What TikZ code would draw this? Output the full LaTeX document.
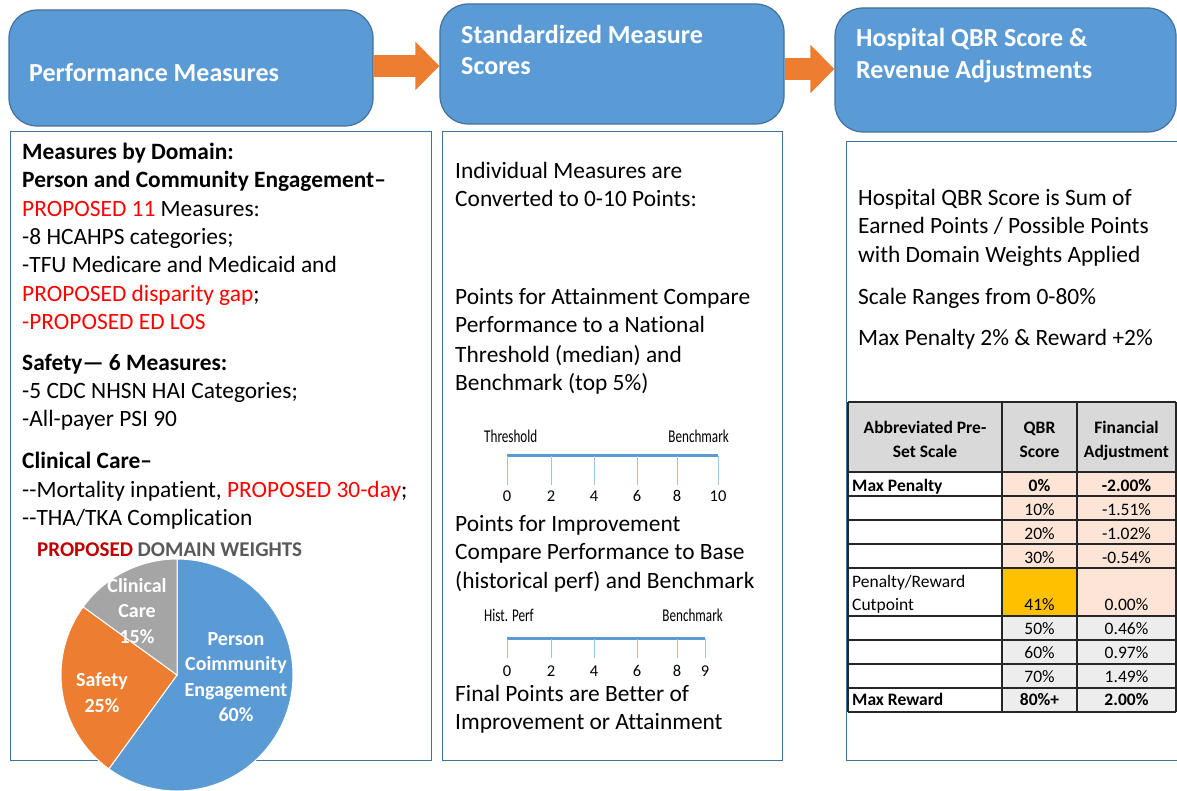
\documentclass[tikz,border=0pt]{standalone}
\usepackage{fontspec}
\setmainfont{Carlito}[Ligatures={TeX,NoCommon}]
\newfontfamily\narrowfont[FakeStretch=0.73]{Carlito}
\usetikzlibrary{arrows.meta}

\definecolor{hdrblue}{HTML}{5B9BD5}
\definecolor{hdredge}{HTML}{41719C}
\definecolor{flowor}{HTML}{ED7D31}
\definecolor{piegray}{HTML}{A5A5A5}
\definecolor{propred}{HTML}{FF0000}
\definecolor{darkred}{HTML}{C00000}
\definecolor{wtgray}{HTML}{595959}
\definecolor{tickblue}{HTML}{9DC3E6}
\definecolor{thdgray}{HTML}{D9D9D9}
\definecolor{peach}{HTML}{FCE4D6}
\definecolor{gold}{HTML}{FFC000}
\definecolor{rowgray}{HTML}{EDEDED}

\tikzset{
  hdr/.style={draw=hdredge, line width=1.2pt, fill=hdrblue, rounded corners=28pt, inner sep=0},
  hdrtxt/.style={text=white, font=\bfseries\fontsize{26}{31}\selectfont, anchor=base west, inner sep=0},
  panel/.style={draw=hdredge, line width=1.3pt, fill=white, inner sep=0, anchor=north west},
  body/.style={font=\fontsize{23.4}{28}\selectfont, anchor=base west, inner sep=0},
  flowarrow/.style={flowor, line width=22pt, -{Triangle[length=24pt, width=47pt]}},
  pielbl/.style={text=white, font=\bfseries\fontsize{20}{25.3}\selectfont, align=center, inner sep=0},
  scalelbl/.style={font=\narrowfont\fontsize{18}{20}\selectfont, inner sep=0},
  ticklbl/.style={font=\fontsize{16.5}{18}\selectfont, anchor=base, inner sep=0},
  scaleline/.style={hdrblue, line width=3pt},
  scaletick/.style={tickblue, line width=1pt},
  tbl/.style={font=\fontsize{17.5}{24}\selectfont, anchor=base, inner sep=0},
  tblline/.style={draw=black!85, line width=1.3pt},
}

\begin{document}
\begin{tikzpicture}[x=1pt, y=-1pt]
  \useasboundingbox (0,0) rectangle (1177,791);
  \fill[white] (0,0) rectangle (1177,791);
  \clip (0,0) rectangle (1177,791);

  % panels under the headers
  \node[panel, minimum width=421, minimum height=629] (pmbox) at (10,131) {};
  \node[panel, minimum width=340, minimum height=629] (smsbox) at (442,131) {};
  \node[panel, minimum width=360, minimum height=619] (qbrbox) at (846,141) {};

  % headers
  \node[hdr, minimum width=364, minimum height=116] (pm) at (191,68) {};
  \node[hdr, minimum width=344, minimum height=120] (sms) at (612,64) {};
  \node[hdr, minimum width=341, minimum height=124] (qbr) at (1005.5,70) {};
  \node[hdrtxt] (pmtxt) at (29,82) {Performance Measures};
  \node[hdrtxt] (smstxt) at (461,44) {Standardized Measure};
  \node[hdrtxt] (smstxtb) at (461,75) {Scores};
  \node[hdrtxt] (qbrtxt) at (856,47) {Hospital QBR Score \&};
  \node[hdrtxt] (qbrtxtb) at (856,79) {Revenue Adjustments};

  \coordinate (fa) at (0,66);
  \coordinate (fb) at (0,69);
  \draw[flowarrow] (pm.east |- fa) -- (sms.west |- fa);
  \draw[flowarrow] (sms.east |- fb) -- (qbr.west |- fb);

  % left panel
  \foreach \ln/\yb [count=\i] in {{\bfseries Measures by Domain:}/160,
      {\bfseries Person and Community Engagement–}/188,
      {\textcolor{propred}{PROPOSED 11} Measures:}/217,
      {-8 HCAHPS categories;}/245,
      {-TFU Medicare and Medicaid and}/273,
      {\textcolor{propred}{PROPOSED disparity gap};}/302,
      {\textcolor{propred}{-PROPOSED ED LOS}}/330,
      {\bfseries Safety— 6 Measures:}/370,
      {-5 CDC NHSN HAI Categories;}/398,
      {-All-payer PSI 90}/426,
      {\bfseries Clinical Care–}/468,
      {-{}-Mortality inpatient, \textcolor{propred}{PROPOSED 30-day};}/497,
      {-{}-THA/TKA Complication}/525}
    \node[body] (pmln\i) at (22,\yb) {\ln};

  \node[font=\bfseries\fontsize{21}{24}\selectfont, anchor=base west, inner sep=0] (dwt) at (37,556)
    {\textcolor{darkred}{PROPOSED} \textcolor{wtgray}{DOMAIN WEIGHTS}};

  % pie
  \coordinate (pc) at (177,675);
  \filldraw[hdrblue, draw=white, line width=1pt] (pc) -- ++(-90:116) arc[start angle=-90, end angle=126, radius=116] -- cycle;
  \filldraw[flowor, draw=white, line width=1pt] (pc) -- ++(126:116) arc[start angle=126, end angle=216, radius=116] -- cycle;
  \filldraw[piegray, draw=white, line width=1pt] (pc) -- ++(216:116) arc[start angle=216, end angle=270, radius=116] -- cycle;
  \node[pielbl] (pcelbl) at (236,677) {Person\\Coimmunity\\Engagement\\60\%};
  \node[pielbl] (safelbl) at (102,692.5) {Safety\\25\%};
  \node[pielbl] (clinlbl) at (137,611) {Clinical\\Care\\15\%};

  % middle panel
  \foreach \ln/\yb [count=\i] in {{Individual Measures are}/179,
      {Converted to 0-10 Points:}/207,
      {Points for Attainment Compare}/305,
      {Performance to a National}/333,
      {Threshold (median) and}/362,
      {Benchmark (top 5\%)}/390,
      {Points for Improvement}/531,
      {Compare Performance to Base}/559,
      {(historical perf) and Benchmark}/588,
      {Final Points are Better of}/701,
      {Improvement or Attainment}/729}
    \node[body] (smsln\i) at (455,\yb) {\ln};

  % attainment scale
  \draw[scaleline] (507,455) -- (718,455);
  \foreach \v/\px in {0/507,2/551,4/594,6/637,8/677,10/718}{
    \draw[scaletick] (\px,456) -- (\px,485);
    \node[ticklbl] (ta\v) at (\px,501) {\v};
  }
  \node[scalelbl, anchor=base west] (thr) at (484,442) {Threshold};
  \node[scalelbl, anchor=base east] (bma) at (729,442) {Benchmark};

  % improvement scale
  \draw[scaleline] (507,638) -- (705,638);
  \foreach \v/\px in {0/507,2/551,4/594,6/637,8/677,9/705}{
    \draw[scaletick] (\px,639) -- (\px,658);
    \node[ticklbl] (tb\v) at (\px,676) {\v};
  }
  \node[scalelbl, anchor=base west] (hist) at (484,621) {Hist. Perf};
  \node[scalelbl, anchor=base east] (bmb) at (723,621) {Benchmark};

  % right panel
  \foreach \ln/\yb [count=\i] in {{Hospital QBR Score is Sum of}/206,
      {Earned Points / Possible Points}/234,
      {with Domain Weights Applied}/263,
      {Scale Ranges from 0-80\%}/305,
      {Max Penalty 2\% \& Reward +2\%}/345}
    \node[body] (qbrln\i) at (858,\yb) {\ln};

  % scale table
  \fill[thdgray] (848,402) rectangle (1176,472);
  \fill[peach] (1002,472) rectangle (1176,616);
  \fill[gold] (1002,568) rectangle (1077,616);
  \fill[rowgray] (1002,616) rectangle (1176,712);
  \foreach \yy in {402,472,496,520,544,568,616,640,664,688,712}
    \draw[tblline] (848,\yy) -- (1176,\yy);
  \foreach \xx in {848,1002,1077,1176}
    \draw[tblline] (\xx,402) -- (\xx,712);

  \node[tbl, font=\bfseries\fontsize{17.5}{24}\selectfont] (tha) at (925,433) {Abbreviated Pre-};
  \node[tbl, font=\bfseries\fontsize{17.5}{24}\selectfont] (thb) at (925,457) {Set Scale};
  \node[tbl, font=\bfseries\fontsize{17.5}{24}\selectfont] (thc) at (1039.5,433) {QBR};
  \node[tbl, font=\bfseries\fontsize{17.5}{24}\selectfont] (thd) at (1039.5,457) {Score};
  \node[tbl, font=\bfseries\fontsize{17.5}{24}\selectfont] (the) at (1126.5,433) {Financial};
  \node[tbl, font=\bfseries\fontsize{17.5}{24}\selectfont] (thf) at (1126.5,457) {Adjustment};

  \foreach \lbl/\qs/\fa/\yb [count=\r] in {{\bfseries Max Penalty}/{\bfseries 0\%}/{\bfseries -2.00\%}/491,
      {}/10\%/-1.51\%/515,
      {}/20\%/-1.02\%/539,
      {}/30\%/-0.54\%/563,
      {Cutpoint}/41\%/0.00\%/610,
      {}/50\%/0.46\%/634,
      {}/60\%/0.97\%/658,
      {}/70\%/1.49\%/682,
      {\bfseries Max Reward}/{\bfseries 80\%+}/{\bfseries 2.00\%}/705}{
    \node[tbl, anchor=base west] (tl\r) at (852,\yb) {\lbl};
    \node[tbl] (tq\r) at (1039.5,\yb) {\qs};
    \node[tbl] (tf\r) at (1126.5,\yb) {\fa};
  }
  \node[tbl, anchor=base west] (tpr) at (852,587) {Penalty/Reward};
\end{tikzpicture}
\end{document}
